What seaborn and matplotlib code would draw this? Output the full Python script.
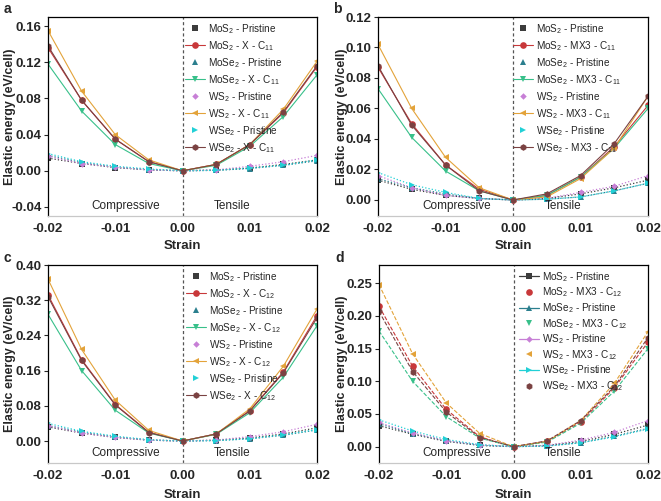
import numpy as np
import pandas as pd
import matplotlib
matplotlib.use("Agg")
import matplotlib.pyplot as plt
from matplotlib.lines import Line2D
import seaborn as sns

sns.set_theme(style="ticks")
plt.rcParams['font.family'] = ['Liberation Sans', 'DejaVu Sans']
plt.rcParams['mathtext.fontset'] = 'custom'
plt.rcParams['mathtext.rm'] = 'Liberation Sans'
plt.rcParams['mathtext.it'] = 'Liberation Sans:italic'
plt.rcParams['mathtext.bf'] = 'Liberation Sans:bold'

strain = [-0.02, -0.015, -0.01, -0.005, 0.0, 0.005, 0.01, 0.015, 0.02]
materials = ["MoS$_2$", "MoSe$_2$", "WS$_2$", "WSe$_2$"]

# Panel a (X - C11)
a_pristine = {
    "MoS$_2$": [0.014, 0.008, 0.0035, 0.001, 0, 0.0008, 0.003, 0.007, 0.012],
    "MoSe$_2$": [0.017, 0.009, 0.004, 0.001, 0, 0.0005, 0.0025, 0.006, 0.011],
    "WS$_2$": [0.016, 0.008, 0.004, 0.001, 0, 0.001, 0.005, 0.010, 0.017],
    "WSe$_2$": [0.019, 0.010, 0.005, 0.002, 0, 0.0005, 0.003, 0.006, 0.012],
}
a_mod = {
    "MoS$_2$": [0.136, 0.078, 0.035, 0.010, 0, 0.007, 0.029, 0.064, 0.115],
    "MoSe$_2$": [0.118, 0.066, 0.029, 0.008, 0, 0.006, 0.027, 0.060, 0.106],
    "WS$_2$": [0.155, 0.088, 0.040, 0.012, 0, 0.007, 0.029, 0.068, 0.121],
    "WSe$_2$": [0.138, 0.078, 0.035, 0.010, 0, 0.007, 0.029, 0.065, 0.116],
}
# Panel b (MX3 - C11)
b_pristine = {
    "MoS$_2$": [0.013, 0.007, 0.003, 0.001, 0, 0.001, 0.004, 0.008, 0.013],
    "MoSe$_2$": [0.014, 0.008, 0.004, 0.001, 0, 0.0005, 0.002, 0.006, 0.011],
    "WS$_2$": [0.016, 0.008, 0.003, 0.001, 0, 0.001, 0.005, 0.009, 0.016],
    "WSe$_2$": [0.018, 0.010, 0.005, 0.001, 0, 0.0005, 0.002, 0.006, 0.011],
}
b_mod = {
    "MoS$_2$": [0.087, 0.050, 0.023, 0.007, 0, 0.003, 0.015, 0.035, 0.062],
    "MoSe$_2$": [0.073, 0.041, 0.019, 0.006, 0, 0.003, 0.015, 0.034, 0.060],
    "WS$_2$": [0.102, 0.060, 0.028, 0.008, 0, 0.002, 0.014, 0.034, 0.068],
    "WSe$_2$": [0.088, 0.049, 0.023, 0.006, 0, 0.004, 0.016, 0.037, 0.068],
}
# Panel c (X - C12)
c_pristine = {
    "MoS$_2$": [0.032, 0.018, 0.008, 0.002, 0, 0.002, 0.007, 0.016, 0.030],
    "MoSe$_2$": [0.035, 0.020, 0.009, 0.002, 0, 0.001, 0.005, 0.013, 0.025],
    "WS$_2$": [0.035, 0.018, 0.008, 0.002, 0, 0.002, 0.010, 0.021, 0.038],
    "WSe$_2$": [0.040, 0.022, 0.011, 0.003, 0, 0.001, 0.005, 0.014, 0.026],
}
c_mod = {
    "MoS$_2$": [0.332, 0.185, 0.083, 0.020, 0, 0.016, 0.069, 0.157, 0.285],
    "MoSe$_2$": [0.288, 0.160, 0.070, 0.018, 0, 0.015, 0.064, 0.145, 0.262],
    "WS$_2$": [0.368, 0.208, 0.093, 0.024, 0, 0.016, 0.073, 0.170, 0.300],
    "WSe$_2$": [0.328, 0.183, 0.082, 0.019, 0, 0.016, 0.068, 0.155, 0.280],
}
# Panel d (MX3 - C12)
d_pristine = {
    "MoS$_2$": [0.032, 0.019, 0.008, 0.002, 0, 0.002, 0.008, 0.019, 0.033],
    "MoSe$_2$": [0.035, 0.020, 0.009, 0.002, 0, 0.001, 0.006, 0.016, 0.028],
    "WS$_2$": [0.037, 0.021, 0.009, 0.003, 0, 0.002, 0.010, 0.022, 0.040],
    "WSe$_2$": [0.041, 0.024, 0.011, 0.003, 0, 0.001, 0.006, 0.015, 0.027],
}
d_mod = {
    "MoS$_2$": [0.215, 0.123, 0.057, 0.015, 0, 0.008, 0.038, 0.090, 0.160],
    "MoSe$_2$": [0.177, 0.100, 0.046, 0.013, 0, 0.007, 0.036, 0.085, 0.150],
    "WS$_2$": [0.248, 0.142, 0.067, 0.020, 0, 0.008, 0.040, 0.097, 0.176],
    "WSe$_2$": [0.207, 0.115, 0.053, 0.014, 0, 0.009, 0.040, 0.092, 0.167],
}

pristine_colors = {"MoS$_2$": "#3c3c3c", "MoSe$_2$": "#2b7f8e", "WS$_2$": "#c77fd6", "WSe$_2$": "#22d0d6"}
mod_colors = {"MoS$_2$": "#c8383a", "MoSe$_2$": "#38c08a", "WS$_2$": "#e3a33a", "WSe$_2$": "#7a4242"}
pristine_markers = {"MoS$_2$": "s", "MoSe$_2$": "^", "WS$_2$": "D", "WSe$_2$": ">"}
mod_markers = {"MoS$_2$": "o", "MoSe$_2$": "v", "WS$_2$": "<", "WSe$_2$": "h"}

panels = [
    ("a", a_pristine, a_mod, "X - C$_{11}$", (-0.05, 0.17), np.arange(-0.04, 0.161, 0.04), "-"),
    ("b", b_pristine, b_mod, "MX3 - C$_{11}$", (-0.0105, 0.12), np.arange(0.0, 0.121, 0.02), "-"),
    ("c", c_pristine, c_mod, "X - C$_{12}$", (-0.05, 0.40), np.arange(0.0, 0.401, 0.08), "-"),
    ("d", d_pristine, d_mod, "MX3 - C$_{12}$", (-0.025, 0.278), np.arange(0.0, 0.251, 0.05), "--"),
]

fig = plt.figure(figsize=(6.61, 5.01), dpi=100)
W, H = 661, 501
boxes = [(48, 17, 317, 216), (378, 17, 648, 216), (48, 265, 317, 463), (379, 265, 648, 463)]
label_pos = [(4, 2), (333, 2), (4, 251), (335, 251)]
ylabel_x = [10, 342, 10, 342]
xlabel_y = [246, 246, 495, 495]
legend_right = [0.885, 0.915, 0.89, 0.94]
legend_spacing = [0.32, 0.32, 0.32, 0.18]

for (name, prist, mod, suffix, ylim, yticks, mls), (l, t, r, b), (lx, ly), yx, xy, lgx, lsp in zip(
        panels, boxes, label_pos, ylabel_x, xlabel_y, legend_right, legend_spacing):
    ax = fig.add_axes([l / W, 1 - b / H, (r - l) / W, (b - t) / H])
    handles, labels = [], []
    for m in materials:
        ps = 4.2 if pristine_markers[m] != "D" else 3.3
        sns.lineplot(x=strain, y=prist[m], ax=ax, color=pristine_colors[m], marker=pristine_markers[m],
                     markersize=ps, markeredgewidth=0, linestyle=":", linewidth=0.9, legend=False)
        sns.lineplot(x=strain, y=mod[m], ax=ax, color=mod_colors[m], marker=mod_markers[m],
                     markersize=4.8, markeredgewidth=0, linestyle=mls, linewidth=0.8, legend=False)
        if name == "d":
            handles.append(Line2D([], [], color=pristine_colors[m], marker=pristine_markers[m],
                                  markersize=ps, markeredgewidth=0, linestyle="-", linewidth=0.9))
            handles.append(Line2D([], [], color=mod_colors[m], marker=mod_markers[m],
                                  markersize=4.8, markeredgewidth=0, linestyle="none"))
        else:
            handles.append(Line2D([], [], color=pristine_colors[m], marker=pristine_markers[m],
                                  markersize=ps, markeredgewidth=0, linestyle="none"))
            handles.append(Line2D([], [], color=mod_colors[m], marker=mod_markers[m],
                                  markersize=4.8, markeredgewidth=0, linestyle="-", linewidth=0.8))
        labels.append(f"{m} - Pristine")
        labels.append(f"{m} - {suffix}")
    ax.axvline(0, color="#555555", linestyle=(0, (2.5, 2)), linewidth=0.9, zorder=0)
    ax.set_xlim(-0.02, 0.02)
    ax.set_ylim(*ylim)
    ax.set_xticks([-0.02, -0.01, 0.0, 0.01, 0.02])
    ax.set_xticklabels([f"{v:.2f}" for v in [-0.02, -0.01, 0.0, 0.01, 0.02]])
    ax.set_yticks(yticks)
    ax.set_yticklabels([f"{v:.2f}" for v in yticks])
    ax.tick_params(axis="both", labelsize=9.5, direction="out", length=3, width=0.8, pad=1.5)
    ax.tick_params(axis="x", length=0, pad=5)
    for lab in ax.get_xticklabels() + ax.get_yticklabels():
        lab.set_fontweight("bold")
    for s in ["left", "top", "right"]:
        ax.spines[s].set_color("black")
        ax.spines[s].set_linewidth(0.9)
    ax.spines["bottom"].set_color("#c8c8c8")
    ax.spines["bottom"].set_linewidth(0.9)
    ax.set_xlabel("Strain", fontsize=9.5, fontweight="bold", va="center")
    ax.set_ylabel("Elastic energy (eV/cell)", fontsize=9, fontweight="bold", va="center")
    ax.xaxis.set_label_coords((l + r) / 2 / W, 1 - xy / H, transform=fig.transFigure)
    ax.yaxis.set_label_coords(yx / W, 1 - (t + b) / 2 / H, transform=fig.transFigure)
    ax.text(0.29, 0.018, "Compressive", transform=ax.transAxes, ha="center", va="bottom", fontsize=8.5)
    ax.text(0.685, 0.018, "Tensile", transform=ax.transAxes, ha="center", va="bottom", fontsize=8.5)
    ax.legend(handles, labels, loc="upper right", bbox_to_anchor=(lgx, 0.995), frameon=False, fontsize=7.2,
              handlelength=2.0, handletextpad=0.3, labelspacing=lsp, borderaxespad=0.2, borderpad=0.2)
    fig.text(lx / W, 1 - ly / H, name, fontsize=10, fontweight="bold", va="top", ha="left")

fig.savefig("out.png", dpi=100)
